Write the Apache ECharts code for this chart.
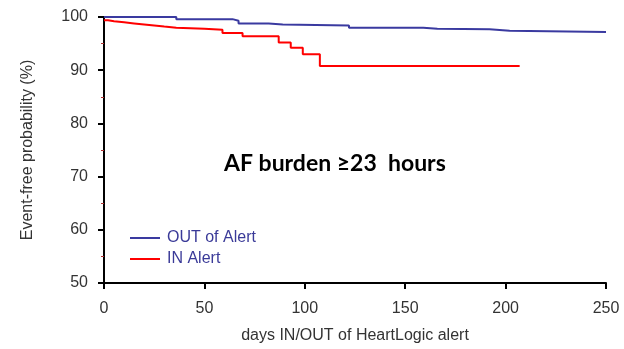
<!DOCTYPE html>
<html>
<head>
<meta charset="utf-8">
<script src="https://cdn.jsdelivr.net/npm/echarts@6/dist/echarts.min.js"></script>
<style>
  html, body { margin: 0; padding: 0; background: #fff; }
  #chart { width: 624px; height: 349px; }
</style>
</head>
<body>
<div id="chart"></div>
<script>
// Kaplan-Meier steps: [day, event-free %]
const outOfAlert = [
  [0, 100], [36, 99.6], [64, 99.3], [67, 98.8], [82, 98.6], [89, 98.4],
  [122, 98.0], [159, 97.8], [166, 97.7], [192, 97.4], [202, 97.2], [250, 97.2]
];
const inAlert = [
  [0, 99.4], [2, 99.2], [5, 99.0], [10, 98.8], [15, 98.6], [20, 98.4],
  [25, 98.2], [30, 98.0], [36, 97.8], [50, 97.6], [59, 97.0], [69, 96.4],
  [87, 95.2], [93, 94.2], [99, 93.0], [107.5, 90.8], [207, 90.8]
];
const xTicks = [0, 50, 100, 150, 200, 250];
const yTicks = [50, 60, 70, 80, 90, 100];

const chart = echarts.init(document.getElementById('chart'));

const labelFont = 'Liberation Sans';

chart.setOption({
  animation: false,
  backgroundColor: '#fff',
  title: {
    text: 'AF burden \u226523  hours',
    left: 219,
    top: 147,
    textStyle: { fontFamily: 'Lato', fontWeight: 'bold', fontSize: 23, color: '#000' }
  },
  legend: {
    orient: 'vertical',
    left: 125,
    top: 225,
    itemWidth: 30,
    itemHeight: 2,
    itemGap: 5,
    icon: 'rect',
    textStyle: { fontFamily: labelFont, fontSize: 16, color: '#3a3a98', padding: [0, 0, 0, 2] },
    data: ['OUT of Alert', 'IN Alert']
  },
  grid: { left: 104, right: 18, top: 17, bottom: 65 },
  xAxis: {
    type: 'value',
    min: xTicks[0],
    max: xTicks[xTicks.length - 1],
    interval: 50,
    name: 'days IN/OUT of HeartLogic alert',
    nameLocation: 'middle',
    nameGap: 45,
    nameTextStyle: { fontFamily: labelFont, fontSize: 16, color: '#333' },
    axisLine: { lineStyle: { color: '#000', width: 2 } },
    axisTick: { show: true, length: 6, lineStyle: { color: '#000', width: 2 } },
    axisLabel: { fontFamily: labelFont, fontSize: 16, color: '#333', margin: 18 },
    splitLine: { show: false }
  },
  yAxis: {
    type: 'value',
    min: yTicks[0],
    max: yTicks[yTicks.length - 1],
    interval: 10,
    name: 'Event-free probability (%)',
    nameLocation: 'middle',
    nameGap: 68,
    nameTextStyle: { fontFamily: labelFont, fontSize: 16, color: '#333' },
    axisLine: { show: true, lineStyle: { color: '#000', width: 2 } },
    axisTick: { show: true, length: 6, lineStyle: { color: '#000', width: 2 } },
    minorTick: { show: true, splitNumber: 2, length: 3, lineStyle: { color: '#b03030', width: 1 } },
    axisLabel: { fontFamily: labelFont, fontSize: 16, color: '#333', margin: 16 },
    splitLine: { show: false }
  },
  series: [
    {
      name: 'OUT of Alert',
      type: 'line',
      step: 'end',
      data: outOfAlert,
      showSymbol: false,
      color: '#3a3aa0',
      lineStyle: { width: 2, color: '#3a3aa0' }
    },
    {
      name: 'IN Alert',
      type: 'line',
      step: 'end',
      data: inAlert,
      showSymbol: false,
      color: '#ff0000',
      lineStyle: { width: 2, color: '#ff0000' }
    }
  ]
});
</script>
</body>
</html>
